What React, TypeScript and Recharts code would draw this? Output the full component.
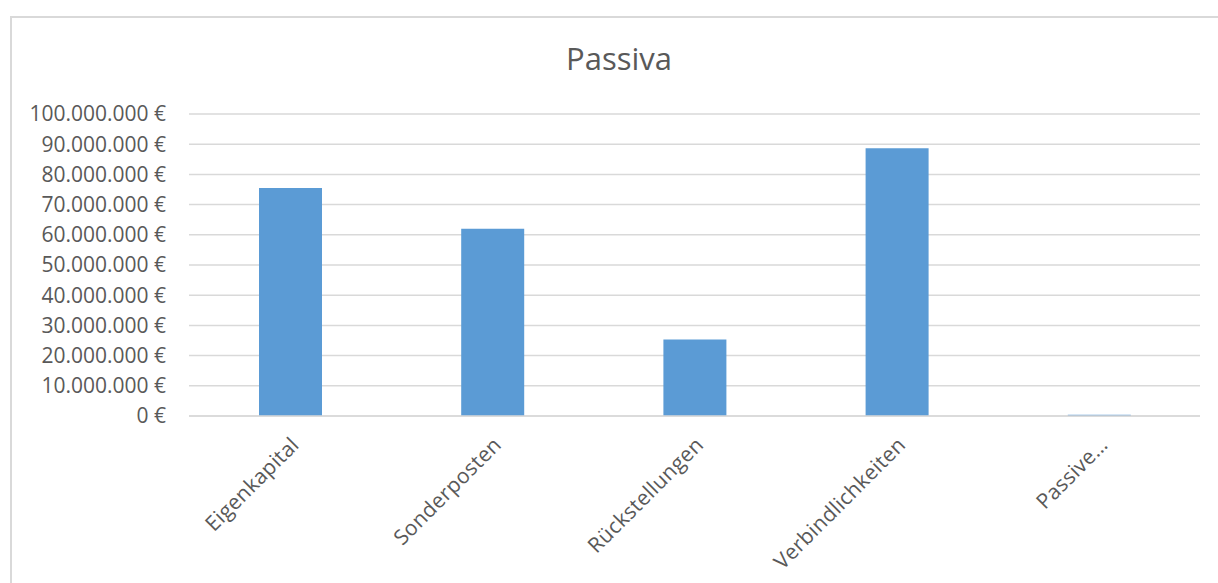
import { BarChart, Bar, XAxis, YAxis, CartesianGrid } from "recharts";

const categories = ["Eigenkapital", "Sonderposten", "Rückstellungen", "Verbindlichkeiten", "Passive…"];
const values = [75500000, 62000000, 25300000, 88700000, 400000];
const yTicks = [0, 10000000, 20000000, 30000000, 40000000, 50000000, 60000000, 70000000, 80000000, 90000000, 100000000];

const data = categories.map((name, i) => ({ name, value: values[i] }));

const TEXT = "#595959";
const GRID = "#d9d9d9";
const FONT = "'Open Sans', sans-serif";

const euro = (v: number) => String(v).replace(/\B(?=(\d{3})+(?!\d))/g, ".") + " €";

const XTick = ({ x, y, payload }: any) => (
  <g transform={`translate(${x + 5},${y + 17})`}>
    <text
      textAnchor="end"
      transform="rotate(-45)"
      dy="0.35em"
      fill={TEXT}
      fontSize={21}
      letterSpacing={0.3}
      fontFamily={FONT}
    >
      {payload.value}
    </text>
  </g>
);

export default function App() {
  return (
    <div style={{ position: "fixed", left: 0, top: 0, width: 1218, height: 583, background: "#fff", overflow: "hidden" }}>
      <div
        style={{
          position: "absolute", left: 10, top: 16, width: 1240, height: 620,
          border: `2px solid ${GRID}`, boxSizing: "border-box",
        }}
      />
      <div
        style={{
          position: "absolute", left: 10, top: 38, width: 1218, textAlign: "center",
          fontFamily: FONT, fontSize: 31, color: TEXT, lineHeight: "40px",
        }}
      >
        Passiva
      </div>
      <div style={{ position: "absolute", left: 0, top: 0 }}>
        <BarChart width={1218} height={583} data={data} margin={{ top: 114, right: 18, left: 10, bottom: 7 }}>
          <CartesianGrid vertical={false} stroke={GRID} strokeWidth={1.5} />
          <XAxis
            dataKey="name"
            interval={0}
            height={160}
            tickLine={false}
            axisLine={{ stroke: GRID, strokeWidth: 1.5 }}
            tick={<XTick />}
          />
          <YAxis
            width={179}
            domain={[0, 100000000]}
            ticks={yTicks}
            interval={0}
            tickFormatter={euro}
            axisLine={false}
            tickLine={false}
            tickSize={6}
            tickMargin={17}
            tick={{ fill: TEXT, fontSize: 21, fontFamily: FONT }}
          />
          <Bar dataKey="value" fill="#5b9bd5" barSize={63} isAnimationActive={false} />
        </BarChart>
      </div>
    </div>
  );
}
